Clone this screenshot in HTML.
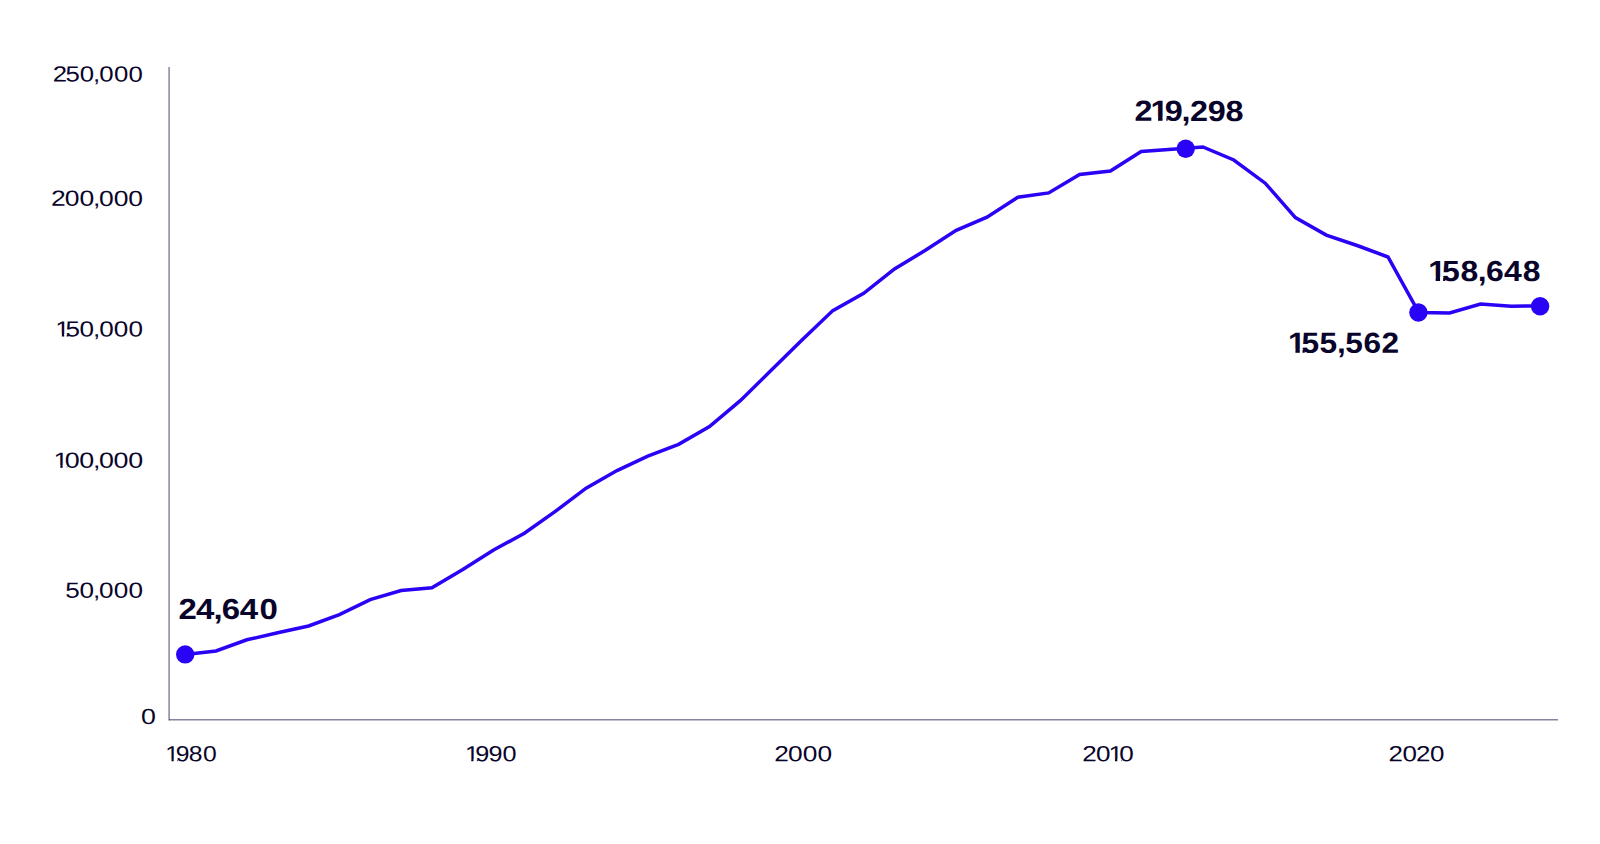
<!DOCTYPE html>
<html lang="en">
<head>
<meta charset="utf-8">
<title>Chart</title>
<style>
html,body{margin:0;padding:0;background:#fff;}
body{width:1600px;height:844px;overflow:hidden;}
svg{display:block;}
text{font-family:"Liberation Sans",sans-serif;fill:#09042a;text-rendering:geometricPrecision;}
</style>
</head>
<body>
<svg width="1600" height="844" viewBox="0 0 1600 844">
<rect width="1600" height="844" fill="#ffffff"/>
<g stroke="#1b1846" stroke-opacity="0.53" fill="none">
<line x1="169.1" y1="67" x2="169.1" y2="720.4" stroke-width="1.5"/>
<line x1="169" y1="719.65" x2="1558" y2="719.65" stroke-width="1.5"/>
</g>
<polyline points="185.2,654.4 216.0,651.0 246.9,639.8 277.7,632.8 308.6,626.0 339.4,614.6 370.2,599.6 401.1,590.6 431.9,587.8 462.8,569.4 493.6,550.0 524.4,533.2 555.3,511.4 586.1,488.2 617.0,470.6 647.8,456.2 678.6,444.3 709.5,426.6 740.3,400.7 771.2,370.3 802.0,340.0 832.8,310.6 863.7,293.3 894.5,268.9 925.4,250.3 956.2,230.4 987.0,217.1 1017.9,197.2 1048.7,192.9 1079.6,174.5 1110.4,171.1 1141.2,151.5 1172.1,149.3 1202.9,147.0 1233.8,160.0 1265.2,183.2 1295.4,217.6 1326.3,235.1 1357.1,245.5 1388.0,257.0 1418.8,312.5 1449.6,313.0 1480.5,304.0 1511.3,306.2 1540.0,305.9" fill="none" stroke="#2803f5" stroke-width="3.5" stroke-linejoin="miter" stroke-miterlimit="10" stroke-linecap="round"/>
<circle cx="185.2" cy="654.4" r="9.2" fill="#2803f5"/>
<circle cx="1185.7" cy="148.7" r="9.2" fill="#2803f5"/>
<circle cx="1418.4" cy="312.5" r="9.2" fill="#2803f5"/>
<circle cx="1540.1" cy="306.3" r="9.2" fill="#2803f5"/>
<g>
<text transform="matrix(1.1717 0.002 0 1 52.83 81.50)" x="0.00 10.82 22.89 34.32 39.60 52.15 64.63" font-size="22">250,000</text>
<text transform="matrix(1.2054 0.002 0 1 50.88 205.80)" x="0.00 11.57 23.71 34.90 39.95 52.14 64.28" font-size="22">200,000</text>
<text transform="matrix(1.1865 0.002 0 1 55.32 336.50)" x="0.00 8.51 20.43 31.75 36.93 49.32 61.64" font-size="22">150,000</text>
<text transform="matrix(1.2209 0.002 0 1 53.57 467.70)" x="0.00 9.14 21.12 32.21 37.15 49.19 61.17" font-size="22">100,000</text>
<text transform="matrix(1.1884 0.002 0 1 65.36 597.70)" x="0.00 11.95 23.26 28.42 40.79 53.10" font-size="22">50,000</text>
<text transform="matrix(1.2171 0.002 0 1 140.95 723.90)" x="0.00" font-size="22">0</text>
<text transform="matrix(1.1217 0.002 0 1 165.31 761.30)" x="0.00 9.21 20.84 33.50" font-size="22">1980</text>
<text transform="matrix(1.1467 0.002 0 1 464.92 761.30)" x="0.00 8.98 20.49 32.89" font-size="22">1990</text>
<text transform="matrix(1.1969 0.002 0 1 774.15 761.30)" x="0.00 11.68 23.83 36.13" font-size="22">2000</text>
<text transform="matrix(1.1869 0.002 0 1 1082.19 761.30)" x="0.00 11.67 22.10 31.34" font-size="22">2010</text>
<text transform="matrix(1.1794 0.002 0 1 1388.58 761.30)" x="0.00 11.74 23.32 35.02" font-size="22">2020</text>
<text transform="matrix(1.1379 0.002 0 1 178.49 618.90)" x="0.00 15.40 30.84 37.97 53.87 71.31" font-size="29" font-weight="700">24,640</text>
<text transform="matrix(1.1162 0.002 0 1 1134.51 120.80)" x="0.00 14.36 27.17 42.16 49.79 65.61 81.62" font-size="29" font-weight="700">219,298</text>
<text transform="matrix(1.0913 0.002 0 1 1288.06 352.70)" x="0.00 12.23 28.81 44.93 52.50 69.12 85.63" font-size="29" font-weight="700">155,562</text>
<text transform="matrix(1.1018 0.002 0 1 1428.20 280.90)" x="0.00 12.48 29.23 44.99 52.42 68.83 85.75" font-size="29" font-weight="700">158,648</text>
</g>
<g fill="#ffffff">
<rect x="57.00" y="334.00" width="4.88" height="3.00"/>
<rect x="64.20" y="334.00" width="2.46" height="3.00"/>
<rect x="55.00" y="465.00" width="5.31" height="4.00"/>
<rect x="62.70" y="465.00" width="4.09" height="4.00"/>
<rect x="166.00" y="759.00" width="5.50" height="3.00"/>
<rect x="173.70" y="759.00" width="3.53" height="3.00"/>
<rect x="466.00" y="759.00" width="5.25" height="3.00"/>
<rect x="473.50" y="759.00" width="3.35" height="3.00"/>
<rect x="1110.00" y="759.00" width="4.98" height="3.00"/>
<rect x="1117.30" y="759.00" width="4.08" height="3.00"/>
<rect x="1152.00" y="117.00" width="6.08" height="5.00"/>
<rect x="1162.55" y="117.00" width="3.80" height="5.00"/>
<rect x="1289.00" y="349.00" width="6.43" height="5.00"/>
<rect x="1299.80" y="349.00" width="2.75" height="5.00"/>
<rect x="1429.00" y="277.00" width="6.64" height="5.00"/>
<rect x="1440.05" y="277.00" width="3.05" height="5.00"/>
</g>
</svg>
</body>
</html>
